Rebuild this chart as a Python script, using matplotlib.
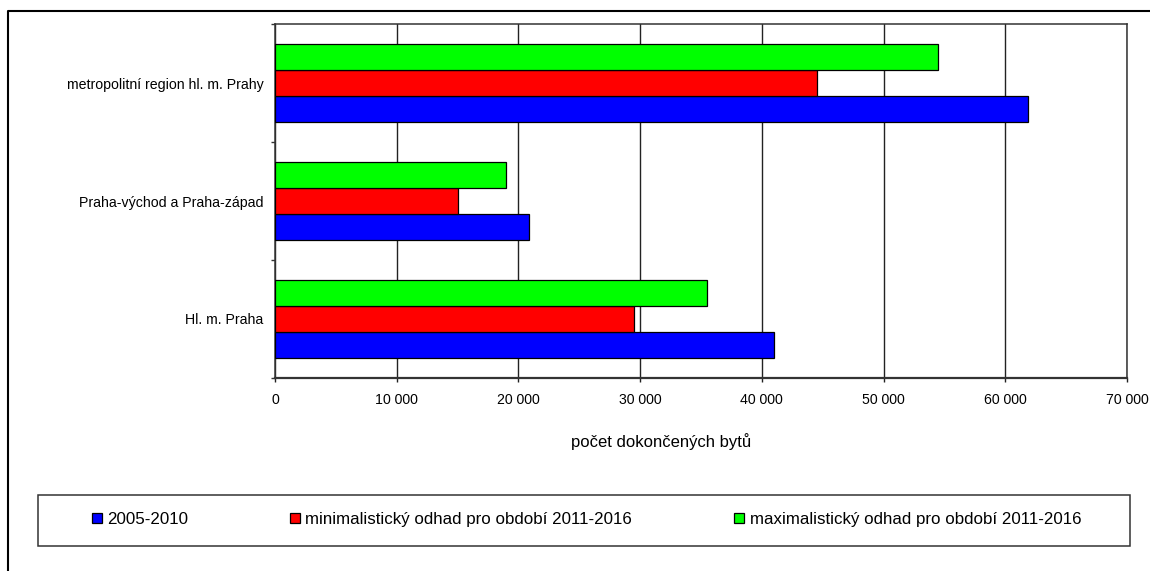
import matplotlib
matplotlib.use("Agg")
import matplotlib.pyplot as plt
import numpy as np
from matplotlib.lines import Line2D
from matplotlib.patches import Rectangle
from matplotlib.ticker import FuncFormatter, FixedLocator

plt.rcParams['font.family'] = ['Liberation Sans', 'DejaVu Sans']

categories = ["Hl. m. Praha", "Praha-východ a Praha-západ", "metropolitní region hl. m. Prahy"]
series_names = ["2005-2010",
                "minimalistický odhad pro období 2011-2016",
                "maximalistický odhad pro období 2011-2016"]
values_2005_2010 = [41000, 20900, 61900]
values_min = [29500, 15000, 44500]
values_max = [35500, 19000, 54500]
colors = ["#0000FF", "#FF0000", "#00FF00"]
x_ticks = [0, 10000, 20000, 30000, 40000, 50000, 60000, 70000]
x_label = "počet dokončených bytů"

W, H = 1150, 571
fig = plt.figure(figsize=(W / 100, H / 100), dpi=100)

# outer border (left and top visible)
fig.add_artist(Line2D([8 / W, 8 / W, 1.05], [-0.05, 1 - 11 / H, 1 - 11 / H],
                      transform=fig.transFigure, color="black", lw=1.5))

left, right, top, bottom = 275, 1127, 24, 378
ax = fig.add_axes([left / W, 1 - bottom / H, (right - left) / W, (bottom - top) / H])

y = np.arange(len(categories))
bh = 0.218
series = [values_2005_2010, values_min, values_max]
offsets = [-bh, 0, bh]
for vals, off, col, name in zip(series, offsets, colors, series_names):
    ax.barh(y + off, vals, height=bh, color=col, edgecolor="black",
            linewidth=0.9, label=name, zorder=3)

ax.set_xlim(0, 70000)
ax.set_ylim(-0.5, len(categories) - 0.5)
ax.xaxis.set_major_locator(FixedLocator(x_ticks))
ax.xaxis.set_major_formatter(FuncFormatter(lambda v, p: f"{int(v):,}".replace(",", " ")))
ax.grid(axis="x", color="#222222", linewidth=1.0, zorder=1)

ax.set_yticks(y)
ax.set_yticklabels(categories, fontsize=10.2)
ax.set_yticks(np.arange(-0.5, len(categories)), minor=True)
ax.tick_params(axis="y", which="major", length=0, pad=11.7 / 1.389)
ax.tick_params(axis="y", which="minor", length=4 / 1.389, color="#333333", width=1)
ax.tick_params(axis="x", length=3, color="#222222", width=1, labelsize=10.2, pad=7.8)

for s in ax.spines.values():
    s.set_color("#333333")
    s.set_linewidth(1.1)
ax.spines["bottom"].set_linewidth(1.6)

fig.text(661.5 / W, 1 - 441.7 / H, x_label, ha="center", va="center", fontsize=12)

# legend box
fig.add_artist(Rectangle((38 / W, 1 - 545.7 / H), (1130 - 38) / W, (545.7 - 495) / H,
                         transform=fig.transFigure, fill=False, edgecolor="#333333", lw=1.1))
handles, labels = ax.get_legend_handles_labels()
leg = fig.legend(handles, labels, loc="center left",
                 bbox_to_anchor=(92 / W, 1 - 519.5 / H), ncol=3, frameon=False,
                 fontsize=12.15, handlelength=0.6, handleheight=0.6, handletextpad=0.3,
                 columnspacing=6.05, borderpad=0, borderaxespad=0)
for h in leg.legend_handles:
    h.set_linewidth(0.9)

fig.savefig("out.png", dpi=100)
